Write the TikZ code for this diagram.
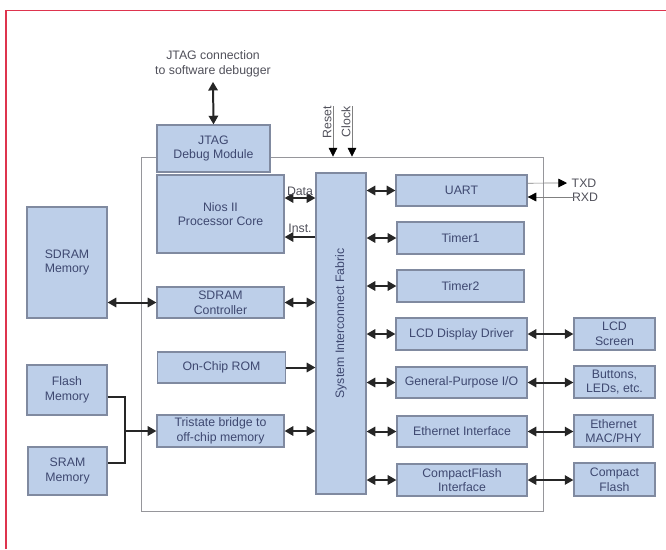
\documentclass[tikz,border=0pt]{standalone}
\usepackage{fontspec}
\setmainfont{Liberation Sans}
\usepackage{tikz}
\usetikzlibrary{arrows.meta,positioning,calc}

\definecolor{blkfill}{RGB}{189,207,233}
\definecolor{blkline}{RGB}{128,138,160}
\definecolor{blktext}{RGB}{62,72,112}
\definecolor{lbltext}{RGB}{80,80,90}
\definecolor{chipline}{RGB}{150,150,155}
\definecolor{framered}{RGB}{222,52,78}

\begin{document}
\begin{tikzpicture}[
  x=0.03cm, y=-0.03cm,
  bus/.style={{Triangle[length=2.6mm,width=2.8mm]}-{Triangle[length=2.6mm,width=2.8mm]}, line width=1.7pt, color=black!85},
  busone/.style={-{Triangle[length=2.6mm,width=2.8mm]}, line width=1.7pt, color=black!85},
  wire/.style={line width=1.7pt, color=black!85},
  sig/.style={-{Triangle[length=2.6mm,width=2.6mm,black]}, line width=0.6pt, color=black!50},
  blk/.style={draw=blkline, fill=blkfill, line width=1pt, rectangle, align=center, inner sep=1pt, text=blktext},
  chip/.style={draw=chipline, line width=0.8pt, rectangle},
  every node/.style={font=\fontsize{10.5}{12.5}\selectfont},
  lbl/.style={text=lbltext, inner sep=1pt} % Estilo para textos sueltos
]

  \useasboundingbox (0,0) rectangle (666,549);
  \draw[framered, line width=1.3pt] (6,549) -- (6,10.5) -- (666,10.5);

  % --- CHIP ---
  \node[chip, minimum width=12.06cm, minimum height=10.62cm] (fpga) at (342,334) {};

  % --- BLOQUES INTERNOS ---
  % Columna izquierda del chip
  \node[blk, minimum width=3.39cm, minimum height=1.41cm] (jtag) at (213.5,148.5) {JTAG\\Debug Module};
  \node[blk, minimum width=3.81cm, minimum height=2.34cm] (nios) at (220.5,214) {Nios II\\Processor Core};
  \node[blk, minimum width=3.81cm, minimum height=0.93cm] (sdramctl) at (220.5,302.5) {SDRAM\\Controller};
  \node[blk, minimum width=3.84cm, minimum height=0.93cm] (rom) at (221.5,367.5) {On-Chip ROM};
  \node[blk, minimum width=3.81cm, minimum height=0.96cm] (tristate) at (220.5,431) {Tristate bridge to\\off-chip memory};

  % Bus central
  \node[blk, minimum width=1.5cm, minimum height=9.63cm] (fabric) at (341,333.5) {};
  \node[text=blktext, rotate=90] (fabrictxt) at ([yshift=0.3cm]fabric.center) {System Interconnect Fabric};

  % Columna derecha del chip
  \node[blk, minimum width=3.93cm, minimum height=0.93cm] (uart) at (461.5,190.5) {UART};
  \node[blk, minimum width=3.81cm, minimum height=0.96cm] (timer1) at (460.5,238) {Timer1};
  \node[blk, minimum width=3.81cm, minimum height=0.96cm] (timer2) at (460.5,286) {Timer2};
  \node[blk, minimum width=3.93cm, minimum height=0.96cm] (lcd) at (461.5,334) {LCD Display Driver};
  \node[blk, minimum width=3.93cm, minimum height=0.93cm] (gpio) at (461.5,382.5) {General-Purpose I/O};
  \node[blk, minimum width=3.9cm, minimum height=0.93cm] (eth) at (462,431.5) {Ethernet Interface};
  \node[blk, minimum width=3.9cm, minimum height=0.96cm] (cf) at (462,480) {CompactFlash\\Interface};

  % --- BLOQUES EXTERNOS ---
  \node[blk, minimum width=2.4cm, minimum height=3.33cm] (sdrammem) at (67,262.5) {SDRAM\\Memory};
  \node[blk, minimum width=2.4cm, minimum height=1.5cm] (flash) at (67,390) {Flash\\Memory};
  \node[blk, minimum width=2.37cm, minimum height=1.44cm] (sram) at (67.5,471) {SRAM\\Memory};

  \node[blk, minimum width=2.43cm, minimum height=0.96cm] (lcdscr) at (614.5,334) {LCD\\Screen};
  \node[blk, minimum width=2.43cm, minimum height=0.96cm] (buttons) at (614.5,382) {Buttons,\\LEDs, etc.};
  \node[blk, minimum width=2.37cm, minimum height=0.96cm] (ethphy) at (613.5,431) {Ethernet\\MAC/PHY};
  \node[blk, minimum width=2.43cm, minimum height=0.99cm] (cflash) at (614.5,479.5) {Compact\\Flash};

  % --- SEÑALES SUELTAS ---
  \node[lbl, align=center] (jtagtxt) at (213,64) {JTAG connection\\to software debugger};
  \coordinate (rstin) at (333,106);
  \coordinate (clkin) at (352,106);
  \node[lbl, rotate=90, anchor=south] (rsttxt) at (333,122) {Reset};
  \node[lbl, rotate=90, anchor=south] (clktxt) at (352,122) {Clock};
  \coordinate (txd) at (567,183);
  \coordinate (rxd) at (574,197);
  \node[lbl, anchor=west] (txdtxt) at ([xshift=0.1cm]txd) {TXD};
  \node[lbl, anchor=west] (rxdtxt) at ([xshift=-0.1cm]rxd) {RXD};
  \coordinate (jct) at (125,431);

  % --- CONEXIONES ---
  % JTAG, Reset y Clock
  \draw[bus] ([yshift=-0.1cm]jtagtxt.south) -- (jtag.north);
  \draw[sig] (rstin) -- (rstin |- fpga.north);
  \draw[sig] (clkin) -- (clkin |- fpga.north);

  % Procesador (Data e Inst.)
  \draw[bus] ([yshift=0.48cm]nios.east) -- node[lbl, above, pos=0.5] {Data} ([yshift=0.48cm]nios.east -| fabric.west);
  \draw[busone] ([yshift=-0.69cm]nios.east -| fabric.west) -- node[lbl, above=2pt, pos=0.5] {Inst.} ([yshift=-0.69cm]nios.east);

  % Memorias
  \draw[bus] (sdrammem.east |- sdramctl.west) -- (sdramctl.west);
  \draw[bus] (sdramctl.east) -- (sdramctl.east -| fabric.west);
  \draw[busone] (rom.east) -- (rom.east -| fabric.west);
  \draw[bus] (tristate.east) -- (tristate.east -| fabric.west);
  \draw[wire] ([yshift=-0.21cm]flash.east) -| (jct) |- ([yshift=0.24cm]sram.east);
  \draw[busone] (jct) -- (tristate.west);

  % Periféricos
  \foreach \per in {uart,timer1,timer2,lcd,gpio,eth,cf}
    \draw[bus] (\per.west -| fabric.east) -- (\per.west);
  \foreach \per/\ext in {lcd/lcdscr, gpio/buttons, eth/ethphy, cf/cflash}
    \draw[bus] (\per.east) -- (\per.east -| \ext.west);

  % UART
  \draw[sig] ([yshift=0.22cm]uart.east) -- (txd);
  \draw[sig] (rxd) -- (rxd -| uart.east);

\end{tikzpicture}
\end{document}
